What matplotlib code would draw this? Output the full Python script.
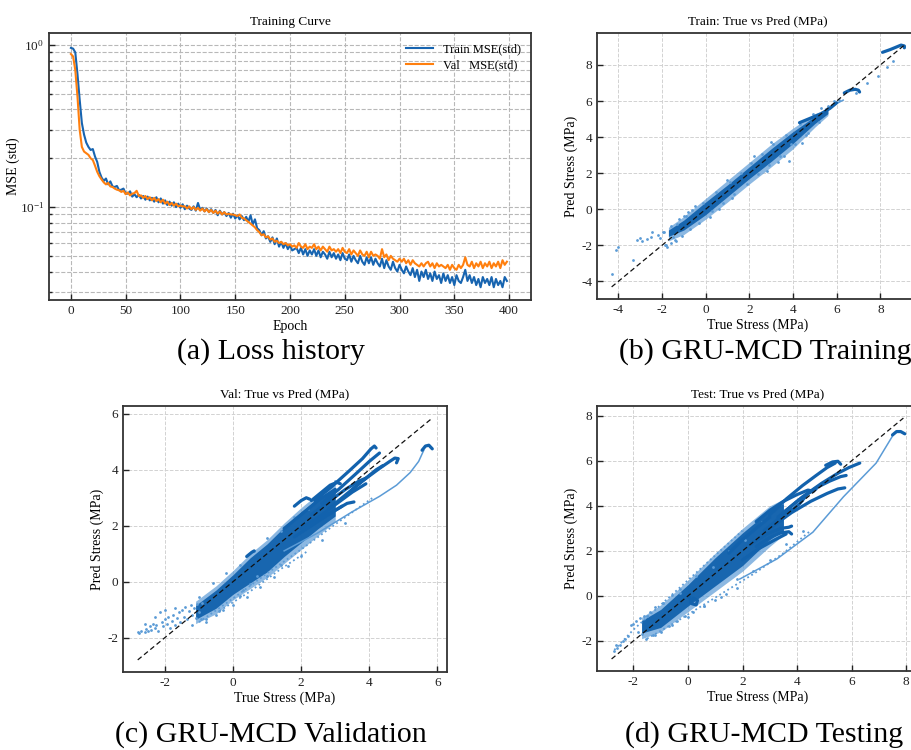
import numpy as np
import matplotlib
matplotlib.use("Agg")
import matplotlib.pyplot as plt

plt.rcParams.update({
    "font.family": "serif",
    "font.serif": ["Liberation Serif", "DejaVu Serif"],
    "mathtext.fontset": "stix",
    "axes.unicode_minus": False,
})

# ---------------- training history (every 2nd epoch) ----------------
epochs = np.arange(0, 400, 2)
train_mse = [
    0.96, 0.95, 0.90, 0.66, 0.46, 0.33, 0.28, 0.25, 0.235, 0.225,
    0.228, 0.205, 0.19, 0.165, 0.152, 0.145, 0.150, 0.138, 0.144, 0.134,
    0.133, 0.135, 0.127, 0.128, 0.130, 0.121, 0.121, 0.125, 0.116, 0.120,
    0.115, 0.119, 0.113, 0.117, 0.111, 0.116, 0.110, 0.114, 0.108, 0.115,
    0.107, 0.113, 0.105, 0.110, 0.103, 0.108, 0.102, 0.107, 0.100, 0.105,
    0.099, 0.104, 0.097, 0.102, 0.098, 0.096, 0.101, 0.095, 0.106, 0.096,
    0.099, 0.094, 0.098, 0.093, 0.097, 0.092, 0.096, 0.089, 0.095, 0.090,
    0.093, 0.088, 0.092, 0.086, 0.091, 0.085, 0.089, 0.084, 0.088, 0.083,
    0.087, 0.081, 0.089, 0.078, 0.084, 0.074, 0.072, 0.067, 0.071, 0.064,
    0.066, 0.061, 0.065, 0.059, 0.064, 0.057, 0.061, 0.056, 0.060, 0.055,
    0.058, 0.054, 0.055, 0.056, 0.052, 0.056, 0.051, 0.055, 0.050, 0.054,
    0.051, 0.055, 0.050, 0.054, 0.049, 0.053, 0.051, 0.048, 0.053, 0.049,
    0.052, 0.048, 0.051, 0.047, 0.052, 0.048, 0.047, 0.051, 0.046, 0.050,
    0.047, 0.045, 0.050, 0.046, 0.044, 0.049, 0.045, 0.049, 0.044, 0.048,
    0.045, 0.043, 0.048, 0.042, 0.047, 0.043, 0.041, 0.046, 0.042, 0.040,
    0.044, 0.041, 0.039, 0.043, 0.040, 0.038, 0.042, 0.037, 0.041, 0.035,
    0.040, 0.037, 0.041, 0.036, 0.039, 0.035, 0.040, 0.036, 0.038, 0.034,
    0.039, 0.035, 0.038, 0.034, 0.037, 0.033, 0.038, 0.035, 0.034, 0.037,
    0.041, 0.035, 0.038, 0.034, 0.037, 0.033, 0.036, 0.032, 0.037, 0.034,
    0.036, 0.033, 0.037, 0.032, 0.036, 0.033, 0.035, 0.032, 0.037, 0.035,
]
val_mse = [
    0.88, 0.85, 0.70, 0.48, 0.30, 0.235, 0.22, 0.215, 0.21, 0.20,
    0.195, 0.18, 0.165, 0.155, 0.148, 0.142, 0.138, 0.141, 0.134, 0.133,
    0.130, 0.128, 0.127, 0.124, 0.126, 0.120, 0.123, 0.118, 0.121, 0.122,
    0.126, 0.117, 0.118, 0.114, 0.117, 0.112, 0.115, 0.110, 0.114, 0.109,
    0.112, 0.107, 0.111, 0.105, 0.108, 0.103, 0.106, 0.102, 0.105, 0.101,
    0.102, 0.101, 0.101, 0.098, 0.101, 0.097, 0.100, 0.096, 0.099, 0.095,
    0.098, 0.094, 0.097, 0.093, 0.096, 0.092, 0.095, 0.091, 0.094, 0.090,
    0.093, 0.090, 0.091, 0.090, 0.090, 0.089, 0.088, 0.090, 0.086, 0.085,
    0.083, 0.081, 0.079, 0.077, 0.075, 0.072, 0.070, 0.067, 0.068, 0.065,
    0.066, 0.063, 0.064, 0.061, 0.062, 0.060, 0.061, 0.059, 0.060, 0.058,
    0.059, 0.057, 0.058, 0.056, 0.060, 0.057, 0.056, 0.059, 0.055, 0.057,
    0.056, 0.059, 0.055, 0.057, 0.054, 0.057, 0.055, 0.053, 0.057, 0.054,
    0.055, 0.053, 0.055, 0.052, 0.056, 0.053, 0.052, 0.055, 0.051, 0.054,
    0.052, 0.050, 0.054, 0.051, 0.050, 0.053, 0.049, 0.053, 0.050, 0.051,
    0.050, 0.048, 0.055, 0.049, 0.051, 0.047, 0.050, 0.048, 0.047, 0.046,
    0.048, 0.046, 0.048, 0.045, 0.047, 0.044, 0.047, 0.045, 0.044, 0.043,
    0.045, 0.043, 0.045, 0.046, 0.043, 0.045, 0.042, 0.045, 0.043, 0.044,
    0.043, 0.042, 0.044, 0.041, 0.044, 0.042, 0.041, 0.044, 0.042, 0.044,
    0.049, 0.044, 0.043, 0.046, 0.042, 0.045, 0.043, 0.046, 0.042, 0.045,
    0.043, 0.046, 0.042, 0.045, 0.043, 0.046, 0.042, 0.047, 0.044, 0.046,
]

# ---------------- parity data: Train ----------------
train_diag = [-4.3, 9.1]
train_band_true = [-1.7, -1.0, 0.0, 1.0, 2.0, 3.0, 4.0, 5.0, 5.6]
train_band_lo = [-1.5, -1.15, -0.3, 0.7, 1.7, 2.65, 3.65, 4.75, 5.3]
train_band_hi = [-1.15, -0.6, 0.4, 1.35, 2.35, 3.35, 4.3, 5.15, 5.5]
train_halo_lo = [-1.75, -1.4, -0.55, 0.4, 1.4, 2.35, 3.35, 4.55, 5.2]
train_halo_hi = [-1.0, -0.4, 0.6, 1.6, 2.6, 3.6, 4.5, 5.3, 5.6]
train_curves = [
    ([4.3, 4.8, 5.3, 5.7, 6.0], [4.8, 5.05, 5.3, 5.6, 5.9]),
    ([6.35, 6.6, 6.85, 7.0, 7.05], [6.45, 6.6, 6.65, 6.6, 6.5]),
    ([8.1, 8.45, 8.75, 8.95, 9.1, 9.1], [8.7, 8.85, 9.0, 9.1, 9.05, 8.95]),
]
train_thin = [([5.5, 5.9, 6.3], [5.55, 5.8, 6.05])]
train_dotted = []
train_pts_true = [-4.3, -4.1, -4.0, -3.3, -3.15, -3.0, -2.9, -2.7, -2.5, -2.45,
                  -2.2, -2.1, -1.95, -1.85, -1.75, -1.6, -1.5, -1.35, -1.2, -1.0,
                  -0.8, -0.5, 0.2, 0.6, 1.2, 2.8, 3.3, 3.6, 3.8, 3.9,
                  4.4, 4.6, 2.2, 1.0, 3.0, 5.3, 5.6, 5.9, 6.9, 7.4,
                  7.9, 8.3, 8.6, 6.1,
                  -1.9, -1.8, -1.6, -1.4, -1.3, -1.1, -0.9, -0.7, -0.6, -0.3,
                  -0.1, 0.3, 0.5, 0.8, 1.1, 1.3, 1.6, 1.9, 2.1, 2.4,
                  2.6, 2.9, 3.1, 3.4, 3.7, 4.1, 4.3, 4.7, 4.9, 5.2]
train_pts_pred = [-3.6, -2.25, -2.1, -2.8, -1.7, -1.6, -1.75, -1.65, -1.55, -1.25,
                  -1.45, -1.6, -1.25, -1.95, -2.1, -1.85, -1.55, -1.75, -0.55, -0.35,
                  -0.15, 0.2, -0.45, 0.0, 0.65, 2.1, 2.6, 2.95, 2.7, 3.6,
                  3.7, 4.1, 2.95, 1.65, 3.75, 5.6, 5.75, 6.0, 6.45, 7.0,
                  7.4, 7.9, 8.2, 6.05,
                  -1.25, -1.95, -0.95, -1.7, -0.8, -1.5, -0.35, -1.1, -0.05, -0.75,
                  0.35, -0.1, 0.95, 0.35, 1.5, 0.85, 2.0, 1.4, 2.55, 1.95,
                  3.05, 2.45, 3.6, 2.95, 4.1, 3.6, 4.75, 4.25, 5.3, 4.85]

# ---------------- parity data: Validation ----------------
val_diag = [-2.8, 5.85]
val_band_true = [-1.1, -0.5, 0.0, 0.5, 1.0, 1.5, 2.0, 2.5, 3.0]
val_band_lo = [-1.35, -0.95, -0.45, -0.05, 0.35, 0.9, 1.4, 1.9, 2.35]
val_band_hi = [-0.85, -0.3, 0.25, 0.85, 1.35, 1.95, 2.5, 3.0, 3.35]
val_halo_lo = [-1.5, -1.15, -0.65, -0.25, 0.15, 0.65, 1.15, 1.65, 2.15]
val_halo_hi = [-0.7, -0.15, 0.4, 1.0, 1.5, 2.1, 2.65, 3.15, 3.5]
val_curves = [
    ([2.4, 2.9, 3.4, 3.8, 4.05, 4.15, 4.2], [2.9, 3.4, 3.95, 4.4, 4.75, 4.85, 4.78]),
    ([2.6, 3.1, 3.6, 4.0, 4.3], [2.8, 3.3, 3.85, 4.3, 4.6]),
    ([2.8, 3.3, 3.8, 4.3, 4.6, 4.75, 4.85, 4.8], [2.6, 3.1, 3.6, 4.05, 4.3, 4.42, 4.4, 4.25]),
    ([2.3, 2.8, 3.3, 3.7, 3.9], [2.4, 2.85, 3.3, 3.6, 3.7]),
    ([2.3, 2.6, 2.85, 3.05, 3.15], [2.9, 3.2, 3.45, 3.55, 3.5]),
    ([1.8, 2.0, 2.15, 2.25], [2.7, 2.9, 3.0, 2.95]),
    ([2.5, 3.0, 3.35, 3.55], [2.2, 2.55, 2.8, 2.85]),
    ([3.5, 3.9, 4.2, 4.4], [3.3, 3.7, 4.0, 4.15]),
    ([1.5, 2.0, 2.5, 3.0], [1.9, 2.4, 2.9, 3.3]),
    ([2.0, 2.5, 3.0, 3.5, 3.9], [1.9, 2.3, 2.75, 3.2, 3.5]),
    ([1.8, 2.3, 2.8, 3.2], [1.6, 2.0, 2.4, 2.7]),
    ([0.4, 0.55, 0.62], [0.9, 1.05, 1.1]),
    ([5.55, 5.65, 5.75, 5.85], [4.7, 4.85, 4.88, 4.75]),
]
val_thin = [([1.5, 2.5, 3.5, 4.3, 4.8, 5.2, 5.45, 5.6],
             [1.1, 1.75, 2.5, 3.05, 3.45, 3.9, 4.3, 4.7])]
val_dotted = [([-1.0, 0.0, 1.0, 2.0, 3.0, 4.1], [-1.45, -0.6, 0.3, 1.15, 2.05, 3.0]),
              ([-0.4, 0.5, 1.4, 2.2], [-1.05, -0.35, 0.45, 1.1])]
val_pts_true = [-2.8, -2.75, -2.7, -2.6, -2.55, -2.5, -2.45, -2.4, -2.35, -2.3,
                -2.25, -2.2, -2.15, -2.1, -2.05, -2.0, -1.95, -1.9, -1.85, -1.8,
                -1.75, -1.7, -1.65, -1.6, -1.55, -1.5, -1.45, -1.4, -1.35, -1.3,
                -1.25, -1.2, -1.15, -1.1, -1.05, -1.0, -0.95, -0.9, -2.0, -1.7,
                -2.3, -2.6, 0.3, 0.5, 0.7, 0.2, -0.3, -0.5, -0.8, -1.2,
                1.0, 1.4,
                -1.0, -0.8, -0.6, -0.4, -0.2, 0.0, 0.2, 0.4, 0.6, 0.8,
                1.0, 1.2, 1.4, 1.6, 1.8, 2.0, 2.2, 2.6, 3.0, 3.3]
val_pts_pred = [-1.8, -1.85, -1.75, -1.8, -1.7, -1.78, -1.6, -1.72, -1.5, -1.65,
                -1.55, -1.75, -1.1, -1.45, -1.6, -1.35, -1.5, -1.25, -1.65, -1.4,
                -1.2, -1.55, -1.3, -1.1, -1.45, -1.0, -1.25, -0.9, -1.35, -1.05,
                -0.85, -1.2, -0.95, -1.3, -0.8, -1.1, -1.35, -0.75, -1.0, -0.95,
                -1.25, -1.5, -0.3, -0.1, 0.2, -0.5, -1.0, -1.2, -1.45, -1.55,
                0.2, 0.6,
                -0.55, -1.35, -0.05, -1.05, 0.3, -0.85, 0.6, -0.55, 1.1, -0.2,
                1.55, 0.15, 1.8, 0.55, 2.3, 0.9, 2.6, 1.5, 3.6, 2.1]

# ---------------- parity data: Test ----------------
test_diag = [-2.8, 7.9]
test_band_true = [-1.7, -1.0, 0.0, 1.0, 2.0, 3.0, 3.5]
test_band_lo = [-1.65, -1.4, -0.45, 0.45, 1.35, 2.5, 2.9]
test_band_hi = [-1.1, -0.6, 0.5, 1.7, 2.8, 3.8, 4.1]
test_halo_lo = [-1.9, -1.6, -0.7, 0.2, 1.1, 2.2, 2.7]
test_halo_hi = [-0.95, -0.4, 0.7, 1.9, 3.0, 4.0, 4.3]
test_curves = [
    ([3.0, 3.6, 4.2, 4.7, 5.1, 5.4], [3.6, 4.3, 4.9, 5.35, 5.7, 5.9]),
    ([5.05, 5.3, 5.5, 5.6], [5.8, 5.95, 5.98, 5.85]),
    ([3.5, 4.2, 4.9, 5.5, 5.9, 6.3], [3.7, 4.4, 5.0, 5.45, 5.7, 5.9]),
    ([3.3, 4.0, 4.7, 5.2, 5.6, 5.8], [3.5, 4.2, 4.8, 5.1, 5.3, 5.35]),
    ([3.0, 3.8, 4.5, 5.1, 5.5, 5.75], [3.0, 3.7, 4.2, 4.55, 4.75, 4.8]),
    ([2.5, 3.0, 3.5, 4.0, 4.4, 4.6], [3.3, 3.8, 4.2, 4.5, 4.7, 4.65]),
    ([2.8, 3.3, 3.6, 3.85], [2.9, 3.4, 3.7, 3.85]),
    ([2.5, 3.0, 3.4, 3.7, 3.8], [2.2, 2.6, 2.8, 2.85, 2.75]),
    ([2.3, 2.9, 3.4, 3.7, 3.8], [2.3, 2.75, 3.0, 3.05, 3.1]),
    ([3.6, 4.1, 4.4, 4.7], [3.6, 4.1, 4.55, 4.75]),
    ([1.5, 2.0, 2.5, 3.0], [1.9, 2.5, 3.0, 3.5]),
    ([2.0, 2.6, 3.2, 3.6], [1.6, 2.1, 2.5, 2.75]),
    ([0.05, 0.15, 0.3, 0.35, 0.2, 0.1], [-0.05, -0.35, -0.4, -0.2, -0.1, -0.3]),
    ([7.5, 7.65, 7.8, 7.95], [7.15, 7.3, 7.3, 7.2]),
]
test_thin = [([1.9, 3.26, 4.58, 5.7, 6.9, 7.5], [0.75, 1.64, 2.83, 4.4, 5.9, 7.1])]
test_dotted = [([-2.7, -2.0, -1.0, 0.0, 1.0, 2.0], [-2.4, -1.5, -0.4, 0.7, 1.8, 2.9]),
               ([-1.5, -0.5, 0.5, 1.5, 2.5, 3.5, 4.5], [-1.9, -1.2, -0.45, 0.3, 1.05, 1.9, 2.9])]
test_pts_true = [-2.7, -2.6, -2.5, -2.65, -2.4, -2.3, -2.2, -2.1, -2.0, -1.9,
                 -1.85, -1.75, -1.7, -1.6, -1.55, -1.4, -1.3, -1.2, -1.0, -0.9,
                 -0.7, -0.6, -0.4, -0.3, -0.1, 0.2, 0.6, 1.0, 1.4, 1.8,
                 -1.5, -1.2, -0.9, -0.6, -0.3, 0.0, 0.3, 0.6, 0.9, 1.2,
                 1.5, 1.8, 2.1, 2.4, 2.7, 3.0, 3.3, 3.6, 3.9, 4.2]
test_pts_pred = [-2.45, -2.3, -2.2, -2.2, -2.0, -1.9, -1.8, -1.3, -1.25, -1.1,
                 -1.6, -1.0, -1.7, -0.9, -1.9, -0.7, -1.75, -0.5, -1.6, -0.3,
                 -1.35, 0.05, -1.1, 0.3, -0.9, -0.7, -0.45, -0.2, 0.1, 0.35,
                 -0.9, -1.75, -0.3, -1.3, 0.15, -0.95, 0.9, -0.45, 1.3, -0.05,
                 2.0, 0.75, 2.5, 1.1, 3.3, 1.6, 4.05, 2.3, 4.6, 2.9]

# ---------------- styling ----------------
BLUE_LINE = "#1764b0"
ORANGE = "#ff7f0e"
DENSE = "#1262ad"
LIGHT = "#5b9bd6"
SPINE = "#333333"

W, H = 911, 750
fig = plt.figure(figsize=(W / 100, H / 100), dpi=100)


def box(left, top, right, bottom):
    return [left / W, 1 - bottom / H, (right - left) / W, (bottom - top) / H]


def frame(ax):
    for s in ax.spines.values():
        s.set_linewidth(1.3)
        s.set_color(SPINE)
    ax.tick_params(which="both", direction="in", colors="#222222",
                   labelsize=9.5, width=1.0)
    ax.tick_params(which="major", length=4)
    ax.tick_params(which="minor", length=2)


# (a) loss history
ax_a = fig.add_axes(box(49, 33, 531, 300))
ax_a.plot(epochs, train_mse, color=BLUE_LINE, lw=1.5, label="Train MSE(std)")
ax_a.plot(epochs, val_mse, color=ORANGE, lw=1.5, label="Val   MSE(std)")
ax_a.set_yscale("log")
ax_a.set_ylim(0.0267, 1.186)
ax_a.set_xlim(-20, 420)
ax_a.set_xticks(np.arange(0, 401, 50))
ax_a.grid(True, which="major", ls="--", color="#b8b8b8", lw=0.8)
ax_a.grid(True, which="minor", axis="y", ls="--", color="#b8b8b8", lw=0.8)
ax_a.set_title("Training Curve", fontsize=9.5, pad=6)
ax_a.set_xlabel("Epoch", fontsize=10, labelpad=2)
ax_a.set_ylabel("MSE (std)", fontsize=10, labelpad=0)
ax_a.legend(loc="upper right", frameon=False, fontsize=9, handlelength=2.2,
            borderaxespad=0.4, labelspacing=0.35)
frame(ax_a)


def parity(ax, title, diag, band_t, band_lo, band_hi, halo_lo, halo_hi,
           curves, thin, dotted, pts_t, pts_p, ticks):
    ax.fill_between(band_t, halo_lo, halo_hi, color=LIGHT, alpha=0.7, lw=0)
    ax.fill_between(band_t, band_lo, band_hi, color=DENSE, alpha=0.95, lw=0)
    for t, p in dotted:
        ax.plot(t, p, ls=(0, (1, 1.6)), color=LIGHT, lw=1.3)
    for t, p in thin:
        ax.plot(t, p, color=LIGHT, lw=1.1)
    for t, p in curves:
        ax.plot(t, p, color=DENSE, lw=2.3, solid_capstyle="round")
    ax.scatter(pts_t, pts_p, s=4, color=LIGHT, lw=0)
    ax.plot(diag, diag, color="#111111", lw=0.9, ls=(0, (4, 2.5)), zorder=5)
    span = diag[1] - diag[0]
    lim = (diag[0] - 0.05 * span, diag[1] + 0.05 * span)
    ax.set_xlim(lim)
    ax.set_ylim(lim)
    ax.set_xticks(ticks)
    ax.set_yticks(ticks)
    ax.grid(True, ls="--", color="#d2d2d2", lw=0.7)
    ax.set_axisbelow(True)
    ax.set_title(title, fontsize=9.5, pad=6)
    ax.set_xlabel("True Stress (MPa)", fontsize=10, labelpad=2)
    ax.set_ylabel("Pred Stress (MPa)", fontsize=10, labelpad=2)
    frame(ax)


ax_b = fig.add_axes(box(597, 33, 919, 299))
parity(ax_b, "Train: True vs Pred (MPa)", train_diag, train_band_true,
       train_band_lo, train_band_hi, train_halo_lo, train_halo_hi,
       train_curves, train_thin, train_dotted, train_pts_true, train_pts_pred,
       [-4, -2, 0, 2, 4, 6, 8])

ax_c = fig.add_axes(box(123, 406, 447, 672))
parity(ax_c, "Val: True vs Pred (MPa)", val_diag, val_band_true,
       val_band_lo, val_band_hi, val_halo_lo, val_halo_hi,
       val_curves, val_thin, val_dotted, val_pts_true, val_pts_pred,
       [-2, 0, 2, 4, 6])

ax_d = fig.add_axes(box(597, 406, 918, 671))
parity(ax_d, "Test: True vs Pred (MPa)", test_diag, test_band_true,
       test_band_lo, test_band_hi, test_halo_lo, test_halo_hi,
       test_curves, test_thin, test_dotted, test_pts_true, test_pts_pred,
       [-2, 0, 2, 4, 6, 8])

# sub-figure captions
cap_kw = dict(ha="center", va="center", fontsize=21.5, color="black")
fig.text(271 / W, 1 - 352 / H, "(a) Loss history", **cap_kw)
fig.text(765 / W, 1 - 352 / H, "(b) GRU-MCD Training", **cap_kw)
fig.text(271 / W, 1 - 735 / H, "(c) GRU-MCD Validation", **cap_kw)
fig.text(764 / W, 1 - 735 / H, "(d) GRU-MCD Testing", **cap_kw)

fig.savefig("out.png", dpi=100)
